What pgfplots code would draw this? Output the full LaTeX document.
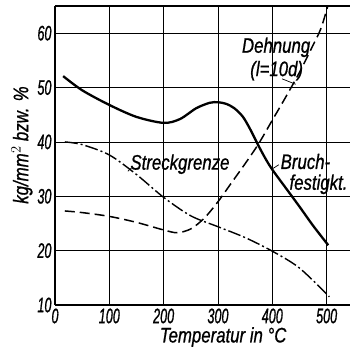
\documentclass[border=0pt]{standalone}
\usepackage{fontspec}
\setmainfont{Liberation Sans}[FakeStretch=0.8, FakeBold=0.8]
\newfontfamily\numfont{Liberation Sans}[FakeStretch=0.6, FakeBold=0.8]
\usepackage{pgfplots}
\pgfplotsset{compat=1.18}
\begin{document}
\begin{tikzpicture}
\begin{axis}[
  name=ax,
  width=295pt, height=299pt, scale only axis,
  xmin=0, xmax=543, ymin=10, ymax=65,
  xtick={0,100,200,300,400,500}, ytick={10,20,30,40,50,60},
  grid=major, grid style={black, line width=0.6pt},
  axis y line*=left,
  y axis line style={-},
  axis line style={line width=1.4pt},
  xtick pos=bottom, ytick pos=left,
  major tick length=0pt,
  tick label style={font=\fontsize{21}{23}\selectfont\numfont\itshape},
  /pgf/number format/assume math mode=true,
  xlabel={Temperatur in °C},
  ylabel={kg/mm$^{2}$ bzw. \%},
  label style={font=\fontsize{21}{23}\selectfont\itshape},
  xlabel style={at={(rel axis cs:0.57,-0.107)}, anchor=center},
  ylabel style={at={(rel axis cs:-0.112,0.535)}, anchor=center},
  clip=true,
]
% Bruchfestigkeit
\addplot[black, line width=2.3pt, smooth] coordinates {
 (15,52.1) (50,49.5) (100,46.8) (150,44.6) (200,43.5) (230,44.2) (260,46.2) (285,47.2) (300,47.3) (315,47.0) (330,46.2) (346,44.6) (360,42.2) (373,39.6) (387,37.0) (400,34.9) (425,31.5) (450,28.1) (475,24.6) (503,21)
};
% Streckgrenze
\addplot[black, line width=1.4pt, smooth, dash pattern=on 13pt off 3pt on 2pt off 3pt] coordinates {
 (18,40) (50,39.5) (100,37.6) (150,34) (200,29.8) (250,26.4) (300,24.4) (350,22.4) (400,19.9) (450,16.8) (505,11.5)
};
% Dehnung
\addplot[black, line width=1.5pt, smooth, dash pattern=on 10pt off 5pt] coordinates {
 (18,27.3) (50,27) (100,26.3) (150,25.2) (200,23.8) (225,23.3) (250,24) (275,26) (300,29) (325,32.5) (350,36) (375,39.7) (400,44) (425,48.3) (450,52.8) (475,57.8) (490,61) (505,66)
};
\begin{scope}[every node/.style={font=\fontsize{21}{23}\selectfont\itshape, inner sep=0pt}]
\node at (axis cs:230,35.9) {Streckgrenze};
\node at (axis cs:407,57.4) {Dehnung};
\node at (axis cs:408,53.1) {(l=10d)};
\node at (axis cs:461,36.4) {Bruch-};
\node at (axis cs:485,32.2) {festigkt.};
\end{scope}
\draw[line width=0.7pt] (axis cs:134,34.6) -- (axis cs:142,35.3);
\draw[line width=0.7pt] (axis cs:418,51.6) -- (axis cs:443,50.6);
\draw[line width=0.7pt] (axis cs:412,35.8) -- (axis cs:401,35.1);
\end{axis}
\pgfresetboundingbox
\path ([xshift=-55pt,yshift=6pt]ax.north west) rectangle ([yshift=-42pt]ax.south east);
\end{tikzpicture}
\end{document}
